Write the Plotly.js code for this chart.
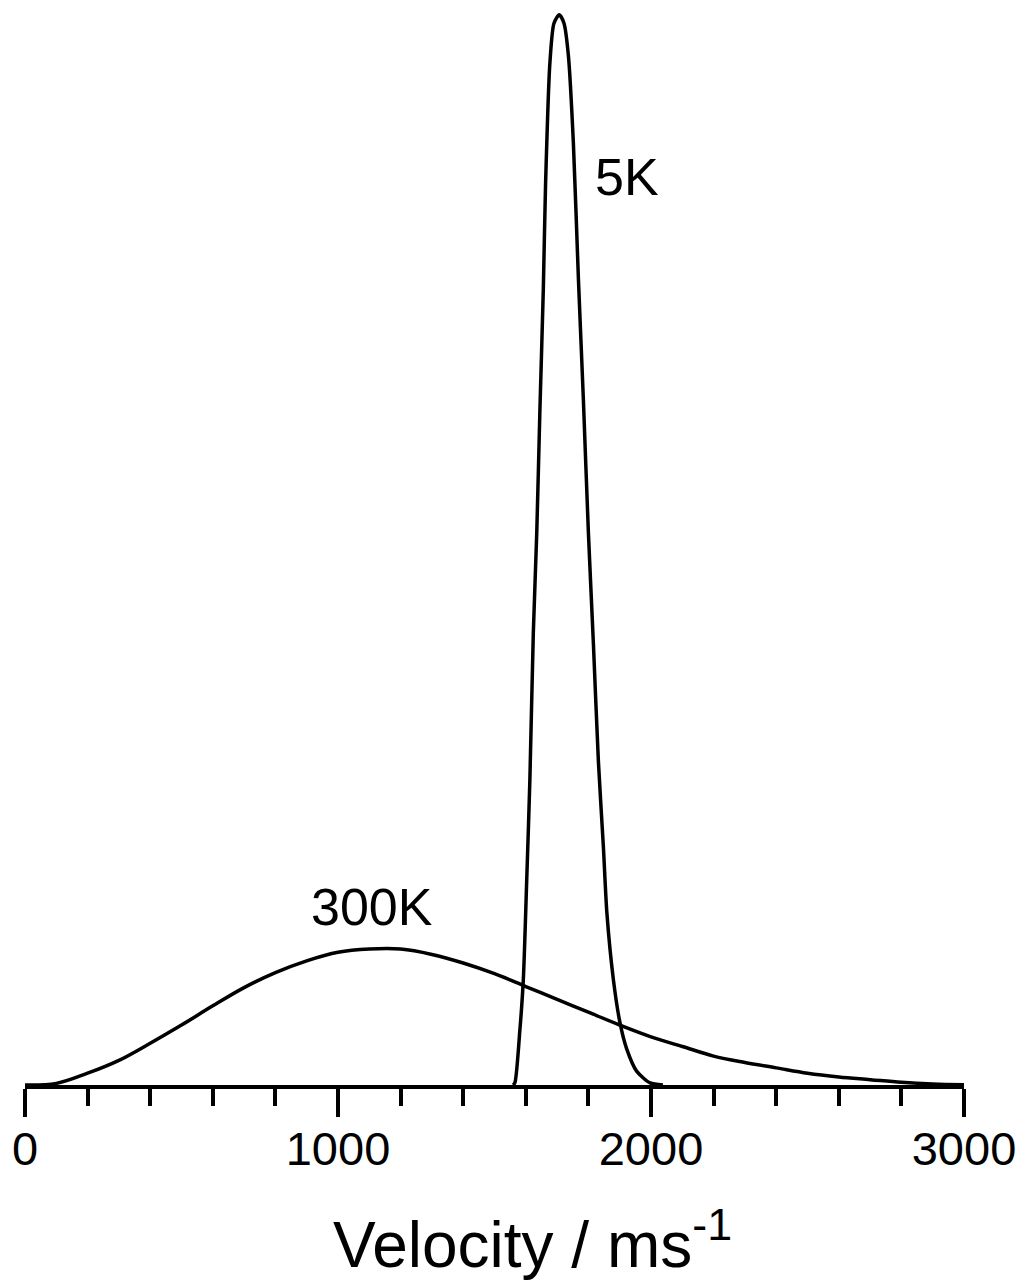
<!DOCTYPE html>
<html>
<head>
<meta charset="utf-8">
<script src="https://cdn.plot.ly/plotly-3.0.1.min.js"></script>
<style>html,body{margin:0;padding:0;background:#fff;} #chart{width:1030px;height:1288px;}</style>
</head>
<body>
<div id="chart"></div>
<script>
// 300 K distribution (velocity in m/s, relative intensity)
var v300 = [0, 100, 200, 300, 400, 500, 600, 700, 800, 900, 1000, 1100, 1200, 1300, 1400, 1500,
            1600, 1700, 1800, 1900, 2000, 2100, 2200, 2300, 2400, 2500, 2600, 2700, 2800, 2900, 3000];
var i300 = [0, 0.15, 1.1, 2.3, 3.9, 5.6, 7.4, 9.1, 10.5, 11.6, 12.4, 12.7, 12.7, 12.2, 11.4, 10.4,
            9.2, 8.0, 6.8, 5.6, 4.5, 3.6, 2.7, 2.1, 1.6, 1.1, 0.75, 0.5, 0.25, 0.1, 0.03];

// 5 K distribution
var v5 = [1559, 1565, 1581, 1592, 1603, 1613, 1624, 1635, 1645, 1656, 1663, 1677, 1690, 1707,
          1722, 1736, 1752, 1768, 1784, 1800, 1816, 1832, 1848, 1859, 1880, 1901, 1922, 1954, 1997, 2038];
var i5 = [0, 0.2, 5.1, 9.8, 19.2, 28.5, 42.2, 51.6, 63.0, 74.4, 84.0, 95.5, 99.2, 100,
          99.2, 96.2, 88.0, 75.4, 64.0, 51.6, 41.2, 30.2, 22.2, 16.1, 9.8, 5.8, 3.4, 1.3, 0.2, 0];

var labels = ["300K", "5K"];
var labelX = [1109, 1923];
var labelY = [16.6, 84.8];

var xTickVals = [0, 1000, 2000, 3000];
var xTickText = ["0", "1000", "2000", "3000"];
var xTitle = "Velocity / ms<sup>-1</sup>";

var font = "Liberation Sans, Arial, Helvetica, sans-serif";

var traces = [
  {x: v300, y: i300, mode: "lines", line: {color: "#000", width: 3.5, shape: "spline", smoothing: 1.0}, hoverinfo: "skip"},
  {x: v5, y: i5, mode: "lines", line: {color: "#000", width: 3.5, shape: "spline", smoothing: 0.7}, hoverinfo: "skip"}
];

var layout = {
  width: 1030, height: 1288,
  margin: {l: 25, r: 66, t: 4, b: 203},
  paper_bgcolor: "#fff", plot_bgcolor: "#fff",
  showlegend: false,
  font: {family: font, color: "#000"},
  xaxis: {
    range: [0, 3000],
    tickvals: xTickVals, ticktext: xTickText,
    ticks: "outside", ticklen: 28, tickwidth: 4, tickcolor: "#000",
    ticklabelstandoff: -8,
    showline: true, linewidth: 3.5, linecolor: "#000",
    showgrid: false, zeroline: false,
    tickfont: {size: 47, family: font, color: "#000"},
    minor: {dtick: 200, tick0: 0, ticks: "outside", ticklen: 17, tickwidth: 4, tickcolor: "#000", showgrid: false},
    fixedrange: true
  },
  yaxis: {
    range: [0, 101], visible: false, showgrid: false, zeroline: false, fixedrange: true
  },
  annotations: [
    {x: labelX[0], y: labelY[0], xref: "x", yref: "y", text: labels[0], showarrow: false,
     font: {size: 52, family: font, color: "#000"}},
    {x: labelX[1], y: labelY[1], xref: "x", yref: "y", text: labels[1], showarrow: false,
     font: {size: 52, family: font, color: "#000"}},
    {x: 0.541, y: -(1240 - 1085) / 1081, xref: "paper", yref: "paper", yanchor: "middle", xanchor: "center",
     text: xTitle, showarrow: false,
     font: {size: 64, family: font, color: "#000"}}
  ]
};

Plotly.newPlot("chart", traces, layout, {staticPlot: true, displayModeBar: false});
</script>
</body>
</html>
